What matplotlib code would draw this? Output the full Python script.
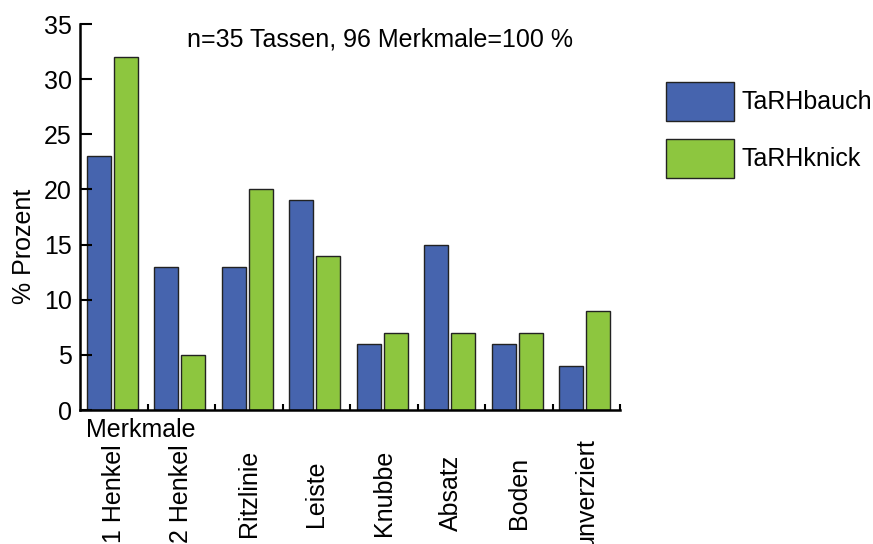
import matplotlib
matplotlib.use('agg')
import matplotlib.pyplot as plt
import numpy as np

plt.rcParams['font.family'] = ['Liberation Sans', 'DejaVu Sans']

categories = ['1 Henkel', '2 Henkel', 'Ritzlinie', 'Leiste', 'Knubbe',
              'Absatz', 'Boden', 'unverziert']
series_names = ['TaRHbauch', 'TaRHknick']
bauch = [23, 13, 13, 19, 6, 15, 6, 4]
knick = [32, 5, 20, 14, 7, 7, 7, 9]
colors = ['#4664ae', '#8dc63f']

fs = 18
fig = plt.figure(figsize=(8.73, 5.44), dpi=100)
W, H = 873, 544
ax = fig.add_axes([80 / W, (H - 410) / H, 540 / W, 386 / H])

x = np.arange(len(categories))
bw = 0.355
ax.bar(x + 0.1, bauch, width=bw, align='edge', color=colors[0],
       edgecolor='#222222', linewidth=1, label=series_names[0])
ax.bar(x + 0.5, knick, width=bw, align='edge', color=colors[1],
       edgecolor='#222222', linewidth=1, label=series_names[1])

ax.set_xlim(0, len(categories))
ax.set_ylim(0, 35)

for side in ('top', 'right'):
    ax.spines[side].set_visible(False)
for side in ('left', 'bottom'):
    ax.spines[side].set_linewidth(1.8)

# y axis: inward ticks every 5
ax.set_yticks(np.arange(0, 36, 5))
ax.tick_params(axis='y', direction='in', length=8.5, width=1.5,
               labelsize=fs, pad=6)

# x axis: category names centred, short inward ticks at boundaries
ax.set_xticks(x + 0.5)
ax.set_xticklabels(categories, rotation=90, va='center', ha='center')
ax.tick_params(axis='x', which='major', length=0, labelsize=fs, pad=60)
ax.set_xticks(np.arange(1, len(categories) + 1), minor=True)
ax.tick_params(axis='x', which='minor', direction='in', length=4.5,
               width=1.5)

ax.set_xlabel('Merkmale', fontsize=fs, ha='left', va='top')
ax.xaxis.set_label_coords(0.011, -0.021)
ax.set_ylabel('% Prozent', fontsize=fs)
ax.yaxis.set_label_coords(-0.081, 0.425)

ax.text(0.555, 0.959, 'n=35 Tassen, 96 Merkmale=100 %', fontsize=fs,
        ha='center', va='center', transform=ax.transAxes)

# legend boxes 68 x 39 px; patch height = fs*hh - 0.35*fs*(hh - 0.7)
px = fs * 100 / 72
hh = (39 / px - 0.245) / 0.65
fig.legend(loc='upper left', bbox_to_anchor=(666 / W, (H - 82) / H),
           frameon=False, fontsize=fs, borderpad=0, borderaxespad=0,
           handlelength=68 / px, handleheight=hh,
           handletextpad=7 / px, labelspacing=18 / px)

fig.savefig('out.png', dpi=100)
